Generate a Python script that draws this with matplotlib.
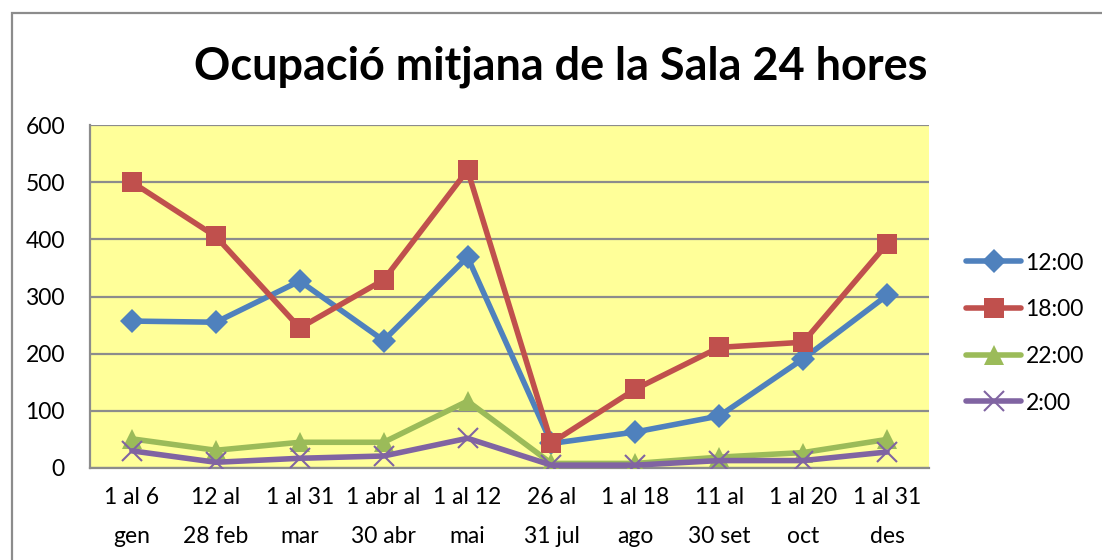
import matplotlib
matplotlib.use("Agg")
import matplotlib.pyplot as plt
from matplotlib.patches import Rectangle

categories = ["1 al 6\ngen", "12 al\n28 feb", "1 al 31\nmar", "1 abr al\n30 abr",
              "1 al 12\nmai", "26 al\n31 jul", "1 al 18\nago", "11 al\n30 set",
              "1 al 20\noct", "1 al 31\ndes"]
s1200 = [257, 255, 327, 223, 369, 43, 63, 91, 191, 302]
s1800 = [500, 405, 245, 329, 521, 44, 138, 211, 220, 392]
s2200 = [51, 31, 45, 45, 117, 8, 8, 19, 27, 50]
s0200 = [30, 10, 17, 21, 52, 5, 5, 13, 13, 28]
series_names = ["12:00", "18:00", "22:00", "2:00"]
yticks = [0, 100, 200, 300, 400, 500, 600]

FONT = ["Lato", "DejaVu Sans"]
plt.rcParams["font.family"] = FONT

W, H = 1102, 560
fig = plt.figure(figsize=(W / 100, H / 100), dpi=100)
fig.patch.set_facecolor("white")

# outer chart border
fig.add_artist(Rectangle((12 / W, -0.2), 1.5, 1 - 13 / H + 0.2, transform=fig.transFigure,
                         fill=False, edgecolor="#8c8c8c", linewidth=1.6))

ax = fig.add_axes([90 / W, 1 - 468 / H, (929 - 90) / W, (468 - 125) / H])
ax.set_facecolor("#FFFF99")

x = list(range(len(categories)))
colors = ["#4F81BD", "#C0504D", "#9BBB59", "#8064A2"]
data = [s1200, s1800, s2200, s0200]
markers = ["D", "s", "^", "x"]
msizes = [12.5, 14, 14, 14]

for vals, c, m, ms, name in zip(data, colors, markers, msizes, series_names):
    kw = dict(color=c, linewidth=4, marker=m, markersize=ms, label=name,
              solid_capstyle="round", zorder=3)
    if m == "x":
        kw.update(markeredgewidth=1.5)
    else:
        kw.update(markeredgewidth=0)
    ax.plot(x, vals, **kw)

ax.set_xlim(-0.5, len(categories) - 0.5)
ax.set_ylim(0, 600)
ax.set_yticks(yticks)
ax.set_xticks(x)
ax.set_xticklabels(categories, fontsize=16.5, linespacing=2.05)
ax.set_yticklabels([str(v) for v in yticks], fontsize=16.5)
ax.tick_params(axis="both", length=0)
ax.tick_params(axis="y", pad=18)
ax.tick_params(axis="x", pad=14)
ax.grid(axis="y", color="#8c8c8c", linewidth=1.6, zorder=1)
ax.set_axisbelow(True)
for side in ["top", "right"]:
    ax.spines[side].set_visible(False)
for side in ["left", "bottom"]:
    ax.spines[side].set_color("#8c8c8c")
    ax.spines[side].set_linewidth(1.6)

leg = ax.legend(loc="center left", bbox_to_anchor=(966 / W, 1 - 333 / H),
                bbox_transform=fig.transFigure, frameon=False, fontsize=16.5,
                handlelength=2.4, handletextpad=0.2, labelspacing=1.12,
                borderaxespad=0, borderpad=0)

fig.text(561 / W, 1 - 67 / H, "Ocupació mitjana de la Sala 24 hores",
         ha="center", va="center", fontsize=32.4, fontweight="bold")

fig.savefig("out.png", dpi=100)
